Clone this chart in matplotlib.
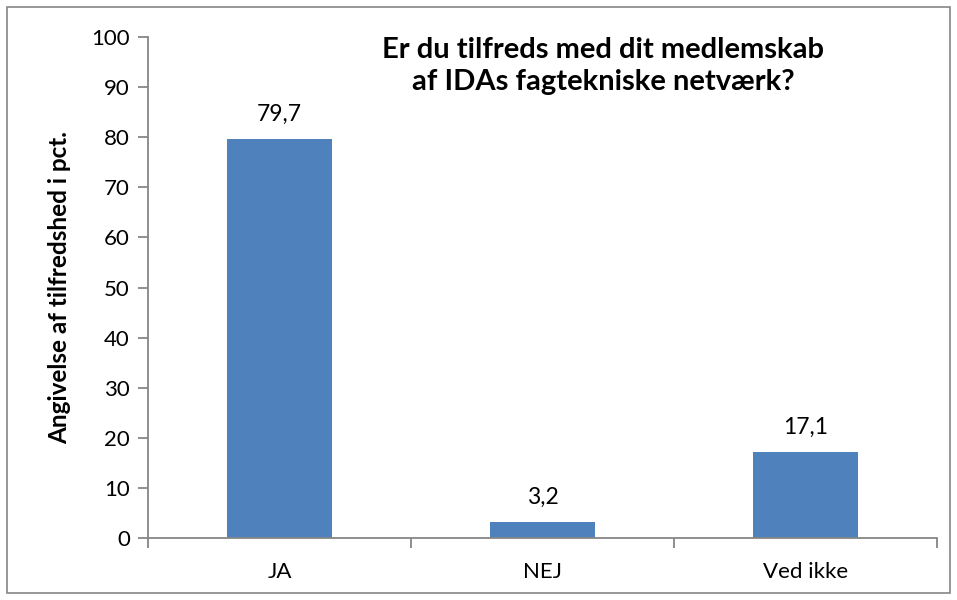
import numpy as np
import matplotlib
matplotlib.use("Agg")
import matplotlib.pyplot as plt
from matplotlib.patches import Rectangle

plt.rcParams['font.family'] = ['Lato', 'DejaVu Sans']

# data
categories = ['JA', 'NEJ', 'Ved ikke']
values = [79.7, 3.2, 17.1]
value_labels = ['79,7', '3,2', '17,1']
y_ticks = [0, 10, 20, 30, 40, 50, 60, 70, 80, 90, 100]

title = 'Er du tilfreds med dit medlemskab\naf IDAs fagtekniske netværk?'
ylabel = 'Angivelse af tilfredshed i pct.'

bar_color = '#4F81BD'
axis_color = '#868686'

fig = plt.figure(figsize=(9.57, 6.0), dpi=100)
ax = fig.add_axes([148 / 957, 62 / 600, 789 / 957, 501 / 600])

x = np.arange(len(categories))
ax.bar(x, values, width=0.40, color=bar_color, zorder=2)

for xi, v, lab in zip(x, values, value_labels):
    ax.annotate(lab, (xi, v), xytext=(0, 13), textcoords='offset points',
                ha='center', va='baseline', fontsize=16.5)

ax.set_xlim(-0.5, len(categories) - 0.5)
ax.set_ylim(0, 100)
ax.set_yticks(y_ticks)
ax.tick_params(axis='y', length=7, width=1.3, color=axis_color, labelsize=16, pad=6)

# category labels in the middle, tick marks at the boundaries
ax.set_xticks(x)
ax.set_xticklabels(categories)
ax.tick_params(axis='x', length=0, labelsize=16, pad=17)
ax.set_xticks(np.arange(-0.5, len(categories)), minor=True)
ax.tick_params(axis='x', which='minor', length=7, width=1.3, color=axis_color)

for side in ['top', 'right']:
    ax.spines[side].set_visible(False)
for side in ['left', 'bottom']:
    ax.spines[side].set_color(axis_color)
    ax.spines[side].set_linewidth(1.3)

ax.set_ylabel(ylabel, fontsize=17.5, fontweight='bold')
ax.yaxis.set_label_coords(60 / 957, 1 - 288 / 600, transform=fig.transFigure)
ax.yaxis.label.set_va('center')

fig.text(603 / 957, 1 - 66 / 600, title, ha='center', va='center',
         fontsize=21, fontweight='bold', linespacing=1.25)

# outer chart border
fig.patches.append(Rectangle((7 / 957, 7 / 600), 943 / 957, 586 / 600,
                             transform=fig.transFigure, fill=False,
                             edgecolor=axis_color, linewidth=1.2))

fig.savefig('out.png', dpi=100)
